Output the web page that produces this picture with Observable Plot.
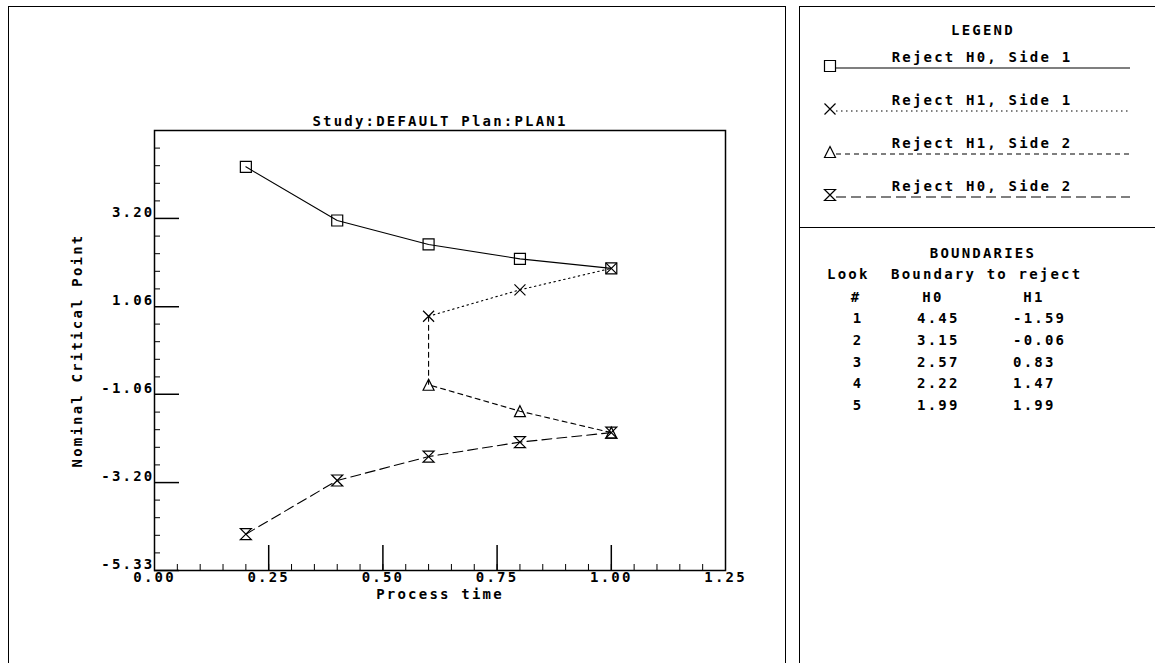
<!DOCTYPE html>
<html><head><meta charset="utf-8">
<script src="https://cdn.jsdelivr.net/npm/d3@7"></script>
<script src="https://cdn.jsdelivr.net/npm/@observablehq/plot@0.6"></script>
<style>
html,body{margin:0;padding:0;background:#fff;}
body{width:1155px;height:663px;position:relative;overflow:hidden;}
#chart{position:absolute;left:0;top:0;}
#side{position:absolute;left:0;top:0;pointer-events:none;}
.box{position:absolute;border:1px solid #000;box-sizing:border-box;pointer-events:none;}
</style></head><body>
<div id="chart"></div>
<div class="box" style="left:8px;top:6px;width:778px;height:680px;"></div>
<div class="box" style="left:799px;top:6px;width:380px;height:680px;"></div>
<div style="position:absolute;left:799px;top:227px;width:356px;height:0;border-top:1px solid #000"></div>
<script>
// ---- data ----
const times = [0.2, 0.4, 0.6, 0.8, 1.0];
const looks = [1, 2, 3, 4, 5];
const h0 = [4.45, 3.15, 2.57, 2.22, 1.99];
const h1 = [-1.59, -0.06, 0.83, 1.47, 1.99];
const seriesNames = ["Reject H0, Side 1", "Reject H1, Side 1", "Reject H1, Side 2", "Reject H0, Side 2"];
const xTickLabels = [0, 0.25, 0.5, 0.75, 1.0, 1.25];
const yTickLabels = [-5.33, -3.20, -1.06, 1.06, 3.20];
const title = "Study:DEFAULT Plan:PLAN1";
const xLabel = "Process time";
const yLabel = "Nominal Critical Point";

const FONT = "'DejaVu Sans Mono', monospace";
const LS = "2.2px";
const FS = "14px";

// ---- symbols ----
const sym = (f) => ({draw(ctx, size) { const r = Math.sqrt(size / Math.PI); f(ctx, r); }});
const symSquare = sym((c, r) => { c.moveTo(-r, -r); c.lineTo(r, -r); c.lineTo(r, r); c.lineTo(-r, r); c.closePath(); });
const symTimes = sym((c, r) => { c.moveTo(-r, -r); c.lineTo(r, r); c.moveTo(r, -r); c.lineTo(-r, r); });
const symTriangle = sym((c, r) => { c.moveTo(0, -r); c.lineTo(r, r); c.lineTo(-r, r); c.closePath(); });
const symHourglass = sym((c, r) => { c.moveTo(-r, -r); c.lineTo(r, -r); c.lineTo(-r, r); c.lineTo(r, r); c.closePath(); });
const symbols = [symSquare, symTimes, symTriangle, symHourglass];
const dashes = [null, "1.5,3.5", "5,4", "10,5"];

// ---- series ----
const s1 = times.map((t, i) => ({x: t, y: h0[i]}));
const active = times.map((t, i) => i).filter(i => h1[i] > 0);
const s2 = active.map(i => ({x: times[i], y: h1[i]}));
const s3 = active.map(i => ({x: times[i], y: -h1[i]}));
const s4 = times.map((t, i) => ({x: t, y: -h0[i]}));
const series = [s1, s2, s3, s4];
const lineData = [s1, s2, [s2[0], ...s3], s4];

// ---- ticks ----
const xMinor = d3.range(26).map(i => i * 0.05);
const xMajor = xTickLabels.slice(1, -1);
const yMinor = d3.range(26).map(i => -5.33 + i * 10.66 / 25);

const marks = [
  Plot.axisX(xMinor, {tickSize: -6, tickFormat: () => "", label: null}),
  Plot.axisX(xMajor, {tickSize: -25, strokeWidth: 1.5, tickFormat: () => "", label: null}),
  Plot.axisX(xTickLabels, {tickSize: 0, tickPadding: 2, tickFormat: d => d.toFixed(2), label: null}),
  Plot.axisY(yMinor, {tickSize: -6, tickFormat: () => "", label: null}),
  Plot.axisY(yTickLabels, {tickSize: -25, strokeWidth: 1.5, tickFormat: () => "", label: null}),
  Plot.axisY(yTickLabels, {tickSize: 0, tickPadding: 0, dy: -6, tickFormat: d => d.toFixed(2), label: null}),
  Plot.frame({stroke: "black", strokeWidth: 1.5}),
  Plot.text([title], {text: d => d, frameAnchor: "top", dy: -14}),
  Plot.text([xLabel], {text: d => d, frameAnchor: "bottom", dy: 28}),
  Plot.text([yLabel], {text: d => d, frameAnchor: "left", textAnchor: "middle", dx: -77, rotate: -90})
];
lineData.forEach((d, k) => {
  marks.push(Plot.line(d, {x: "x", y: "y", stroke: "black", strokeWidth: 1.1, strokeDasharray: dashes[k]}));
});
series.forEach((d, k) => {
  marks.push(Plot.dot(d, {x: "x", y: "y", symbol: symbols[k], r: 5.5, stroke: "black", fill: "none", strokeWidth: 1.2}));
});

const plot = Plot.plot({
  width: 790, height: 663,
  marginLeft: 154, marginRight: 65, marginTop: 130, marginBottom: 93,
  x: {domain: [0, 1.25]},
  y: {domain: [-5.33, 5.33]},
  style: {fontFamily: FONT, fontSize: FS, fontWeight: "bold", letterSpacing: LS, background: "transparent", overflow: "visible", color: "black"},
  marks
});
document.getElementById("chart").appendChild(plot);

// ---- right panel: legend + boundaries table ----
const svg = d3.select("body").append("svg").attr("id", "side")
  .attr("width", 1155).attr("height", 663)
  .style("font-family", FONT).style("font-size", FS).style("font-weight", "bold").style("letter-spacing", LS);

const txt = (x, y, s, anchor = "middle") => svg.append("text").attr("x", x).attr("y", y)
  .attr("text-anchor", anchor).attr("dominant-baseline", "central").text(s);

txt(983, 30, "LEGEND");
seriesNames.forEach((name, i) => {
  const y = 68 + i * 43;
  txt(982, y - 11, name);
  svg.append("line").attr("x1", 836).attr("x2", 1130).attr("y1", y).attr("y2", y)
    .attr("stroke", "black").attr("stroke-width", 1.1).attr("stroke-dasharray", dashes[i]);
  svg.append("path").attr("transform", `translate(830,${y - 2})`)
    .attr("d", d3.symbol(symbols[i], 5.5 * 5.5 * Math.PI)())
    .attr("fill", "white").attr("stroke", "black").attr("stroke-width", 1.2);
});

txt(983, 253, "BOUNDARIES");
txt(827, 274, "Look", "start");
txt(891, 274, "Boundary to reject", "start");
txt(856, 297, "#");
txt(933, 297, "H0");
txt(1034, 297, "H1");
looks.forEach((lk, i) => {
  const y = 318 + i * 21.8;
  txt(858, y, String(lk));
  txt(917, y, h0[i].toFixed(2), "start");
  txt(1013, y, h1[i].toFixed(2), "start");
});
</script>
</body></html>
